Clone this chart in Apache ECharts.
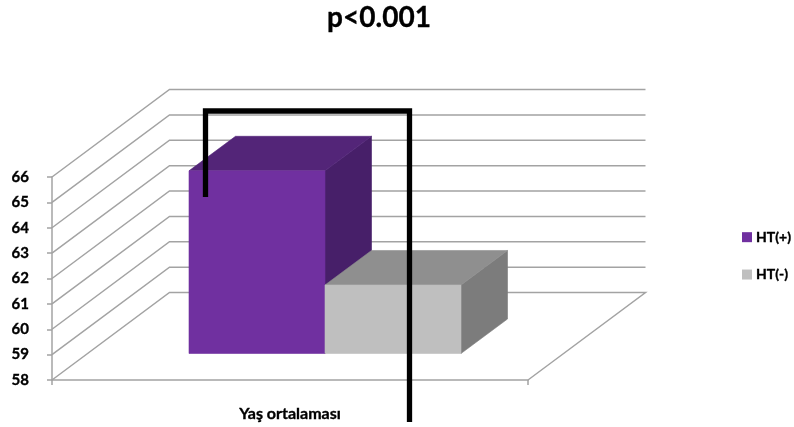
<!DOCTYPE html>
<html>
<head>
<meta charset="utf-8">
<style>html,body{margin:0;padding:0;background:#fff}#chart{width:794px;height:427px}</style>
<script src="https://cdn.jsdelivr.net/npm/echarts@6/dist/echarts.min.js"></script>
</head>
<body>
<div id="chart"></div>
<script>
// Mean age by hypertension status
const categories = ['Yaş ortalaması'];
const seriesNames = ['HT(+)', 'HT(-)'];
const htPositive = [65.2];
const htNegative = [60.7];
const tickValues = [58, 59, 60, 61, 62, 63, 64, 65, 66];

// Oblique projection used for the box walls and the bars
const FONT = 'Lato, "Open Sans", sans-serif';
const WALL_DX = 117.5, WALL_DY = -87.5; // floor depth
const BAR_DX = 46.5, BAR_DY = -34.5;    // bar depth
const BAR_INSET_DX = 35, BAR_INSET_DY = -26.5; // bar offset from the floor's front edge
const BAR_SHARE = 136 / 476;            // bar width as a share of the category band
const GRID_LINE = '#a3a3a3';
const HEAVY_TEXT = { fontFamily: FONT, fontWeight: 'bold', color: '#000', textBorderColor: '#000', textBorderWidth: 0.35 };

const faces = [
  { front: '#7030a0', top: '#532578', side: '#471f69' },
  { front: '#bfbfbf', top: '#8f8f8f', side: '#7c7c7c' }
];

function renderWall(params, api) {
  const band = api.size([1, 0])[0];
  const p = api.coord([0, api.value(1)]);
  const left = p[0] - band / 2;
  const points = [
    [left, p[1]],
    [left + WALL_DX, p[1] + WALL_DY],
    [left + band + WALL_DX, p[1] + WALL_DY]
  ];
  if (api.value(1) === tickValues[0]) {
    points.push([left + band, p[1]]);
  }
  return {
    type: 'polyline',
    shape: { points },
    style: { stroke: GRID_LINE, lineWidth: 1.5, fill: null },
    silent: true
  };
}

function renderBar(barIndex) {
  return function (params, api) {
    const band = api.size([1, 0])[0];
    const w = band * BAR_SHARE;
    const top = api.coord([0, api.value(1)]);
    const base = api.coord([0, tickValues[0]]);
    const x0 = top[0] + BAR_INSET_DX + (barIndex - 1) * w;
    const x1 = x0 + w;
    const yTop = top[1] + BAR_INSET_DY;
    const yBase = base[1] + BAR_INSET_DY;
    const c = faces[barIndex];
    const poly = (points, fill) => ({
      type: 'polygon',
      shape: { points },
      style: { fill, stroke: fill, lineWidth: 0.6 },
      silent: true
    });
    return {
      type: 'group',
      children: [
        poly([[x1, yTop], [x1 + BAR_DX, yTop + BAR_DY], [x1 + BAR_DX, yBase + BAR_DY], [x1, yBase]], c.side),
        poly([[x0, yTop], [x0 + BAR_DX, yTop + BAR_DY], [x1 + BAR_DX, yTop + BAR_DY], [x1, yTop]], c.top),
        poly([[x0, yTop], [x1, yTop], [x1, yBase], [x0, yBase]], c.front)
      ]
    };
  };
}

const chart = echarts.init(document.getElementById('chart'), null, { renderer: 'canvas' });
chart.setOption({
  animation: false,
  backgroundColor: '#fff',
  textStyle: { fontFamily: FONT },
  title: {
    text: 'p<0.001',
    left: 379,
    top: 4,
    padding: 0,
    textAlign: 'center',
    textStyle: { ...HEAVY_TEXT, fontSize: 28 }
  },
  legend: {
    orient: 'vertical',
    left: 742,
    top: 230,
    padding: 0,
    itemWidth: 10,
    itemHeight: 10,
    itemGap: 23,
    icon: 'rect',
    data: seriesNames,
    textStyle: { ...HEAVY_TEXT, fontSize: 14, padding: [0, 0, 0, -1] }
  },
  grid: { left: 52, top: 177, width: 476, height: 203 },
  xAxis: {
    type: 'category',
    data: categories,
    axisLine: { lineStyle: { color: GRID_LINE, width: 1.5 } },
    axisTick: { show: true, length: 5, lineStyle: { color: GRID_LINE, width: 1.5 } },
    axisLabel: { ...HEAVY_TEXT, margin: 26, fontSize: 16 },
    splitLine: { show: false }
  },
  yAxis: {
    type: 'value',
    min: 58,
    max: 66,
    interval: 1,
    axisLine: { show: true, lineStyle: { color: GRID_LINE, width: 1.5 } },
    axisTick: { show: true, length: 5, lineStyle: { color: GRID_LINE, width: 1.5 } },
    axisLabel: { ...HEAVY_TEXT, margin: 23, padding: [3, 0, 0, 0], fontSize: 15 },
    splitLine: { show: false }
  },
  series: [
    {
      name: 'walls',
      type: 'custom',
      renderItem: renderWall,
      data: tickValues.map(v => [0, v]),
      encode: { x: 0, y: 1 },
      z: 1,
      silent: true
    },
    {
      name: seriesNames[0],
      type: 'custom',
      renderItem: renderBar(0),
      data: htPositive.map((v, i) => [i, v]),
      encode: { x: 0, y: 1 },
      itemStyle: { color: faces[0].front },
      z: 2
    },
    {
      name: seriesNames[1],
      type: 'custom',
      renderItem: renderBar(1),
      data: htNegative.map((v, i) => [i, v]),
      encode: { x: 0, y: 1 },
      itemStyle: { color: faces[1].front },
      z: 3
    }
  ],
  // Significance bracket joining the two groups
  graphic: [{
    type: 'polyline',
    z: 100,
    shape: { points: [[205.5, 197], [205.5, 111], [409.5, 111], [409.5, 422]] },
    style: { stroke: '#000', lineWidth: 5.3, fill: null, lineJoin: 'miter' },
    silent: true
  }]
});
</script>
</body>
</html>
